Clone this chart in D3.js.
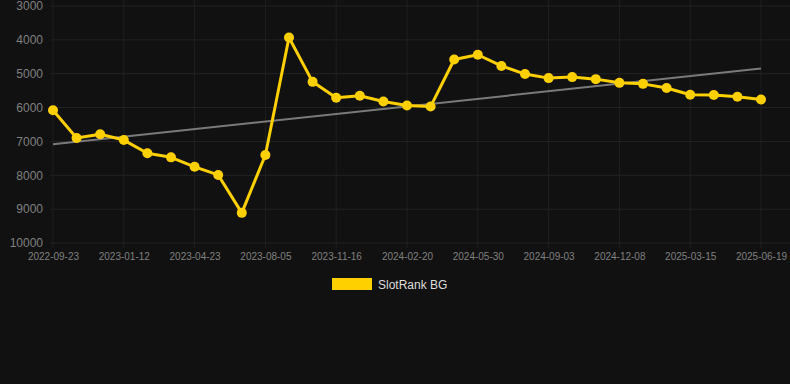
<!DOCTYPE html>
<html lang="en">
<head>
    <meta charset="UTF-8">
    <title>SlotRank BG</title>
    <script src="https://cdn.jsdelivr.net/npm/d3@7/dist/d3.min.js"></script>
    <style>
        html, body { margin: 0; padding: 0; background: #111111; }
        svg { display: block; font-family: "Liberation Sans", Arial, sans-serif; }
    </style>
</head>
<body>
<script>
    // dates of each ranking snapshot (only every 3rd one is labelled on the axis)
    var dates = ["2022-09-23","2022-10-30","2022-12-06","2023-01-12","2023-02-17","2023-03-20",
                 "2023-04-23","2023-05-27","2023-07-01","2023-08-05","2023-09-10","2023-10-13",
                 "2023-11-16","2023-12-20","2024-01-17","2024-02-20","2024-03-26","2024-04-28",
                 "2024-05-30","2024-07-04","2024-08-01","2024-09-03","2024-10-05","2024-11-06",
                 "2024-12-08","2025-01-10","2025-02-12","2025-03-15","2025-04-17","2025-05-19",
                 "2025-06-19"];
    var ranks = [6080,6900,6790,6960,7350,7470,7750,7990,9110,7400,3930,5240,5710,5650,5820,
                 5940,5970,4580,4440,4770,5010,5130,5100,5160,5270,5300,5420,5620,5630,5680,5760];
    var yTicks = [3000,4000,5000,6000,7000,8000,9000,10000];
    var seriesName = "SlotRank BG";

    var width = 790, height = 384;
    var plot = {left: 53, right: 761, top: 6, bottom: 243};

    var svg = d3.select("body").append("svg").attr("width", width).attr("height", height);

    var xScale = d3.scalePoint().domain(dates).range([plot.left, plot.right]);
    // rank axis: smaller number = better, drawn on top
    var yScale = d3.scaleLinear().domain([3000, 10000]).range([plot.top, plot.bottom]);

    var labelled = dates.filter(function(d, i) { return i % 3 === 0; });

    // grid
    svg.append("g").selectAll("line").data(yTicks).enter().append("line")
        .attr("x1", 50).attr("x2", width)
        .attr("y1", function(d) { return yScale(d); }).attr("y2", function(d) { return yScale(d); })
        .attr("stroke", "#232323").attr("stroke-width", 1);
    svg.append("g").selectAll("line").data(labelled).enter().append("line")
        .attr("x1", function(d) { return xScale(d); }).attr("x2", function(d) { return xScale(d); })
        .attr("y1", 0).attr("y2", plot.bottom + 5)
        .attr("stroke", "#1f1f1f").attr("stroke-width", 1);

    // axes
    var yAxis = d3.axisLeft(yScale).tickValues(yTicks).tickSize(0).tickPadding(0).tickFormat(d3.format("d"));
    var gy = svg.append("g").attr("transform", "translate(43,0)").call(yAxis);
    gy.select(".domain").remove();
    gy.selectAll("text").attr("fill", "#808080").attr("font-size", 12);

    var xAxis = d3.axisBottom(xScale).tickValues(labelled).tickSize(0).tickPadding(0);
    var gx = svg.append("g").attr("transform", "translate(0," + (plot.bottom + 10) + ")").call(xAxis);
    gx.select(".domain").remove();
    gx.selectAll("text").attr("fill", "#808080").attr("font-size", 10);

    // linear trend over the series
    var n = ranks.length;
    var mx = d3.mean(d3.range(n)), my = d3.mean(ranks);
    var sxy = d3.sum(ranks, function(v, i) { return (i - mx) * (v - my); });
    var sxx = d3.sum(d3.range(n), function(i) { return (i - mx) * (i - mx); });
    var slope = sxy / sxx, icpt = my - slope * mx;
    svg.append("line")
        .attr("x1", xScale(dates[0])).attr("y1", yScale(icpt))
        .attr("x2", xScale(dates[n - 1])).attr("y2", yScale(icpt + slope * (n - 1)))
        .attr("stroke", "#7a7a7a").attr("stroke-width", 2);

    // series
    var line = d3.line()
        .x(function(d, i) { return xScale(dates[i]); })
        .y(function(d) { return yScale(d); });
    svg.append("path").datum(ranks)
        .attr("d", line).attr("fill", "none")
        .attr("stroke", "#FFD000").attr("stroke-width", 3).attr("stroke-linejoin", "round");
    svg.append("g").selectAll("circle").data(ranks).enter().append("circle")
        .attr("cx", function(d, i) { return xScale(dates[i]); })
        .attr("cy", function(d) { return yScale(d); })
        .attr("r", 5).attr("fill", "#FFD000");

    // legend
    var lg = svg.append("g").attr("transform", "translate(332,278)");
    lg.append("rect").attr("width", 40).attr("height", 12).attr("fill", "#FFD000");
    lg.append("text").attr("x", 46).attr("y", 10.5).attr("fill", "#dddddd")
        .attr("font-size", 12).text(seriesName);
</script>
</body>
</html>
